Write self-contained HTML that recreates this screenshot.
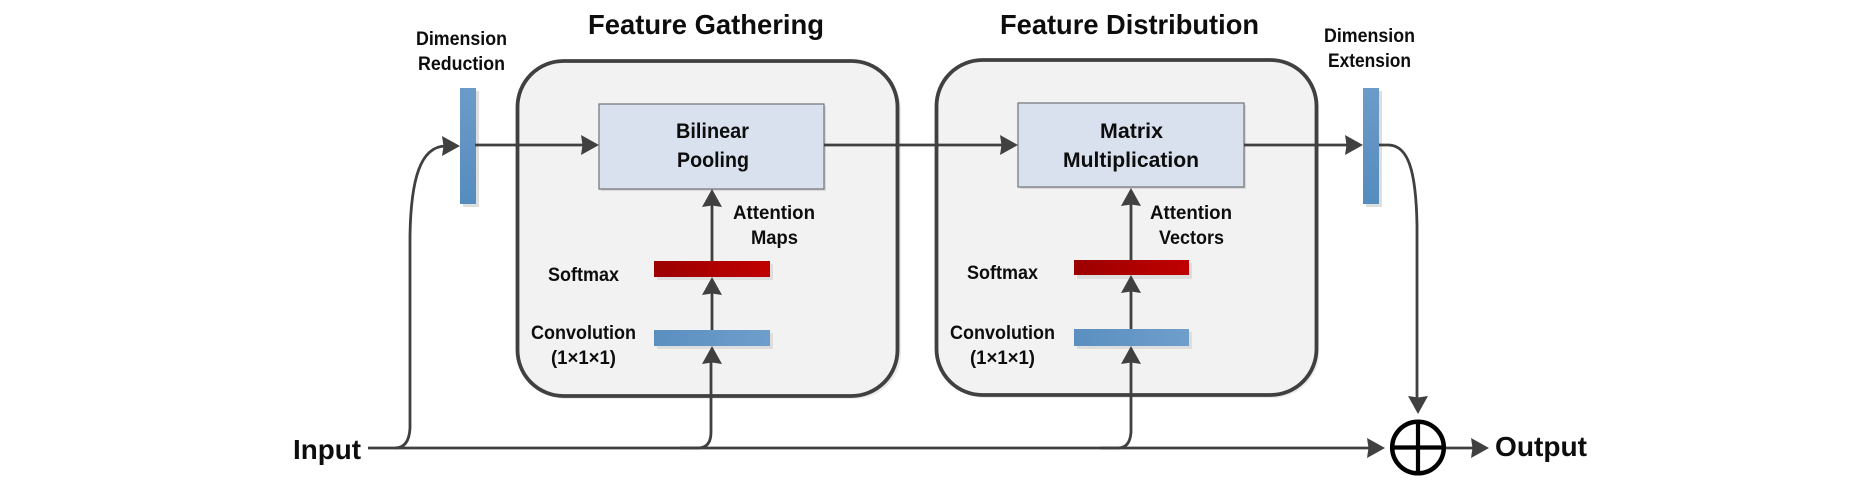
<!DOCTYPE html>
<html>
<head>
<meta charset="utf-8">
<style>
html,body{margin:0;padding:0;background:#fff;width:1850px;height:483px;overflow:hidden}
svg{display:block}
text{font-family:"Liberation Sans",sans-serif;font-weight:bold;fill:#0d0d0d}
</style>
</head>
<body>
<svg width="1850" height="483" viewBox="0 0 1850 483" xmlns="http://www.w3.org/2000/svg">
<defs>
<linearGradient id="bv" x1="0" y1="0" x2="0" y2="1"><stop offset="0" stop-color="#6c9bc9"/><stop offset="1" stop-color="#558cbe"/></linearGradient>
<linearGradient id="bh" x1="0" y1="0" x2="1" y2="0"><stop offset="0" stop-color="#5a8fc0"/><stop offset="1" stop-color="#6f9ecb"/></linearGradient>
<linearGradient id="rh" x1="0" y1="0" x2="1" y2="0"><stop offset="0" stop-color="#9c0000"/><stop offset="1" stop-color="#c00000"/></linearGradient>
</defs>

<!-- group boxes -->
<rect x="520" y="64" width="381" height="335" rx="46" fill="#e4e4e4" opacity=".7"/>
<rect x="939" y="63" width="380" height="335" rx="46" fill="#e4e4e4" opacity=".7"/>
<rect x="517.500" y="61" width="380" height="335" rx="46" fill="#f2f2f2" stroke="#404040" stroke-width="3.800"/>
<rect x="936.500" y="60" width="380" height="335" rx="46" fill="#f2f2f2" stroke="#404040" stroke-width="3.800"/>

<!-- inner boxes -->
<rect x="601" y="106" width="225" height="85" fill="#d8d8d8"/>
<rect x="1020" y="105" width="226" height="84" fill="#d8d8d8"/>
<rect x="599" y="104" width="225" height="85" fill="#d9e0ee" stroke="#6f7278" stroke-width="1.200"/>
<rect x="1018" y="103" width="226" height="84" fill="#d9e0ee" stroke="#6f7278" stroke-width="1.200"/>

<!-- bar shadows -->
<g fill="#dedede">
<rect x="463" y="91" width="16" height="116"/>
<rect x="1366" y="91" width="16" height="116"/>
<rect x="657" y="264" width="116" height="16"/>
<rect x="657" y="333" width="116" height="16"/>
<rect x="1077" y="263" width="115" height="16"/>
<rect x="1077" y="332" width="115" height="17"/>
</g>
<!-- bars -->
<rect x="460" y="88" width="16" height="116" fill="url(#bv)"/>
<rect x="1363" y="88" width="16" height="116" fill="url(#bv)"/>
<rect x="654" y="261" width="116" height="16" fill="url(#rh)"/>
<rect x="654" y="330" width="116" height="16" fill="url(#bh)"/>
<rect x="1074" y="260" width="115" height="15" fill="url(#rh)"/>
<rect x="1074" y="329" width="115" height="17" fill="url(#bh)"/>

<!-- connectors -->
<g fill="none" stroke="#404040" stroke-width="2.800">
<path d="M368 448H1372"/>
<path d="M395 448Q409 448 410 428V235C411 180 420 146 446 146"/>
<path d="M680 448H698Q711 448 711 432V360"/>
<path d="M1100 448H1118Q1130 448 1131 432V360"/>
<path d="M475 145H586"/>
<path d="M824 145H1006"/>
<path d="M1244 145H1350"/>
<path d="M1379 145H1388C1408 145 1416 170 1417 225V400"/>
<path d="M712 330V292"/>
<path d="M712 261V204"/>
<path d="M1131 329V291"/>
<path d="M1131 260V203"/>
<path d="M1445 448H1476"/>
</g>
<!-- arrowheads -->
<g fill="#404040">
<path d="M460 146L442 136L443.500 146L442 156Z"/>
<path d="M599 145L581 135L582.500 145L581 155Z"/>
<path d="M1018 145L1000 135L1001.500 145L1000 155Z"/>
<path d="M1363 145L1345 135L1346.500 145L1345 155Z"/>
<path d="M1385 448L1367 438L1368.500 448L1367 458Z"/>
<path d="M1489 448L1471 438L1472.500 448L1471 458Z"/>
<path d="M1418 414L1408 396L1418 397.500L1428 396Z"/>
<path d="M712 189L702 207L712 205.500L722 207Z"/>
<path d="M712 277L702 295L712 293.500L722 295Z"/>
<path d="M712 346L702 364L712 362.500L722 364Z"/>
<path d="M1131 188L1121 206L1131 204.500L1141 206Z"/>
<path d="M1131 275L1121 293L1131 291.500L1141 293Z"/>
<path d="M1131 346L1121 364L1131 362.500L1141 364Z"/>
</g>

<!-- sum -->
<circle cx="1418" cy="447.500" r="25.800" fill="#fff" stroke="#000" stroke-width="4.500"/>
<path d="M1391 447.500H1445M1418 420V475" stroke="#000" stroke-width="4.200" fill="none"/>

<!-- labels -->
<text x="588" y="34" font-size="28" textLength="236" lengthAdjust="spacingAndGlyphs">Feature Gathering</text>
<text x="1000" y="34" font-size="28" textLength="259" lengthAdjust="spacingAndGlyphs">Feature Distribution</text>
<text x="416" y="45" font-size="19.500" textLength="91" lengthAdjust="spacingAndGlyphs">Dimension</text>
<text x="418" y="70" font-size="19.500" textLength="87" lengthAdjust="spacingAndGlyphs">Reduction</text>
<text x="1324" y="42" font-size="19.500" textLength="91" lengthAdjust="spacingAndGlyphs">Dimension</text>
<text x="1328" y="67" font-size="19.500" textLength="83" lengthAdjust="spacingAndGlyphs">Extension</text>
<text x="676" y="138" font-size="21.500" textLength="73" lengthAdjust="spacingAndGlyphs">Bilinear</text>
<text x="677" y="167" font-size="21.500" textLength="72" lengthAdjust="spacingAndGlyphs">Pooling</text>
<text x="1100" y="138" font-size="21.500" textLength="63" lengthAdjust="spacingAndGlyphs">Matrix</text>
<text x="1063" y="167" font-size="21.500" textLength="136" lengthAdjust="spacingAndGlyphs">Multiplication</text>
<text x="733" y="219" font-size="19.500" textLength="82" lengthAdjust="spacingAndGlyphs">Attention</text>
<text x="751" y="244" font-size="19.500" textLength="47" lengthAdjust="spacingAndGlyphs">Maps</text>
<text x="1150" y="219" font-size="19.500" textLength="82" lengthAdjust="spacingAndGlyphs">Attention</text>
<text x="1159" y="244" font-size="19.500" textLength="65" lengthAdjust="spacingAndGlyphs">Vectors</text>
<text x="548" y="281" font-size="19.500" textLength="71" lengthAdjust="spacingAndGlyphs">Softmax</text>
<text x="967" y="279" font-size="19.500" textLength="71" lengthAdjust="spacingAndGlyphs">Softmax</text>
<text x="531" y="339" font-size="19.500" textLength="105" lengthAdjust="spacingAndGlyphs">Convolution</text>
<text x="551" y="364" font-size="19.500" textLength="65" lengthAdjust="spacingAndGlyphs">(1×1×1)</text>
<text x="950" y="339" font-size="19.500" textLength="105" lengthAdjust="spacingAndGlyphs">Convolution</text>
<text x="970" y="364" font-size="19.500" textLength="65" lengthAdjust="spacingAndGlyphs">(1×1×1)</text>
<text x="293" y="459" font-size="28" textLength="68" lengthAdjust="spacingAndGlyphs">Input</text>
<text x="1495" y="456" font-size="28" textLength="92" lengthAdjust="spacingAndGlyphs">Output</text>
</svg>
</body>
</html>
